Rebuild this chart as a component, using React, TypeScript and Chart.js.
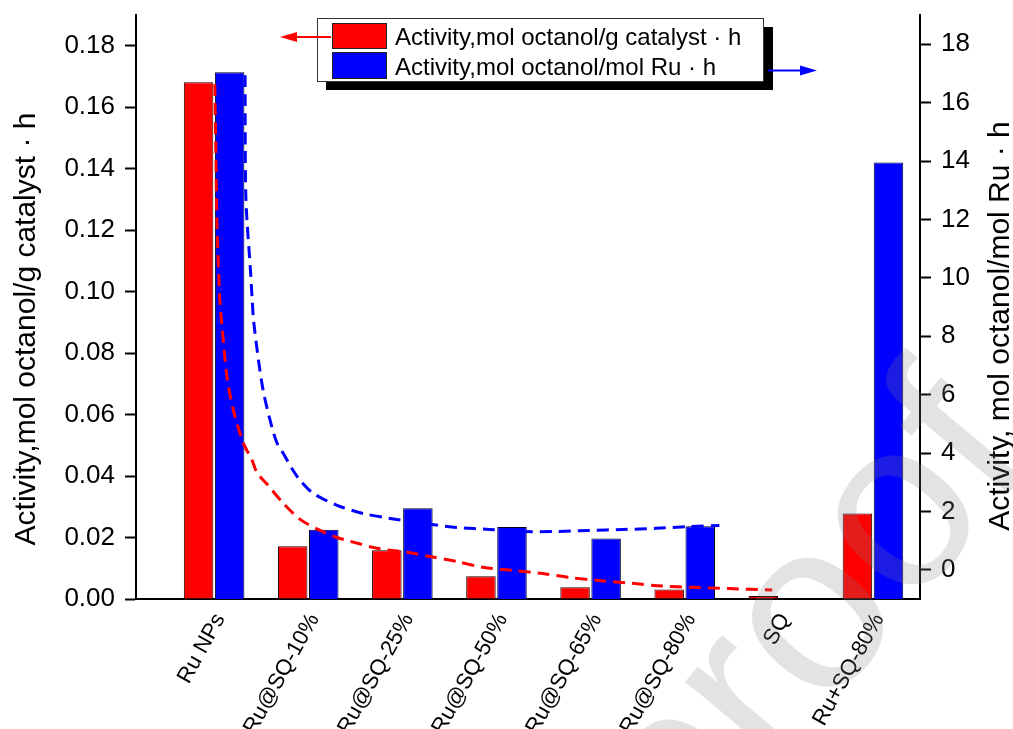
import { useEffect, useRef } from "react";
import { Chart, registerables } from "chart.js";

Chart.register(...registerables);

const FONT = '"Liberation Sans", Arial, sans-serif';

const categories = ["Ru NPs", "Ru@SQ-10%", "Ru@SQ-25%", "Ru@SQ-50%", "Ru@SQ-65%", "Ru@SQ-80%", "SQ", "Ru+SQ-80%"];
const categoryPositions = [1, 2, 3, 4, 5, 6, 7, 8];
const activityPerGram = [0.1681, 0.0172, 0.0159, 0.0074, 0.0038, 0.0031, 0.001, 0.0278];
const activityPerMolRu: (number | null)[] = [17.04, 1.37, 2.11, 1.47, 1.07, 1.49, null, 13.95];

const redFitX = [1.007, 1.018, 1.031, 1.048, 1.06, 1.084, 1.137, 1.204, 1.31, 1.402, 1.458, 1.561, 1.734, 1.914, 2.126, 2.306, 2.444, 2.731, 3.049, 3.293, 3.579, 3.855, 4.173, 4.491, 4.777, 5.095, 5.445, 5.763, 6.081, 6.474, 6.93];
const redFitY = [0.1675, 0.1463, 0.1212, 0.1062, 0.0975, 0.0886, 0.0723, 0.0615, 0.0508, 0.0452, 0.041, 0.0374, 0.0312, 0.0259, 0.0223, 0.02, 0.0188, 0.0165, 0.0152, 0.0138, 0.0122, 0.0103, 0.0093, 0.0083, 0.007, 0.006, 0.0051, 0.0042, 0.0038, 0.0034, 0.0029];

const blueFitX = [1.329, 1.331, 1.336, 1.349, 1.384, 1.405, 1.419, 1.472, 1.525, 1.614, 1.67, 1.734, 1.84, 1.914, 2.052, 2.307, 2.582, 2.869, 3.218, 3.579, 3.929, 4.279, 4.64, 4.99, 5.34, 5.7, 6.05, 6.368];
const blueFitY = [16.94, 14.37, 12.9, 11.97, 10.36, 9.23, 8.55, 7.17, 6.08, 4.88, 4.33, 3.99, 3.4, 3.06, 2.62, 2.21, 1.93, 1.76, 1.59, 1.45, 1.38, 1.31, 1.31, 1.35, 1.38, 1.42, 1.48, 1.52];

const leftTicks = [0, 0.02, 0.04, 0.06, 0.08, 0.1, 0.12, 0.14, 0.16, 0.18];
const rightTicks = [0, 2, 4, 6, 8, 10, 12, 14, 16, 18];

const legendLabels = ["Activity,mol octanol/g catalyst \u00b7 h", "Activity,mol octanol/mol Ru \u00b7 h"];
const leftTitle = "Activity,mol octanol/g catalyst \u00b7 h";
const rightTitle = "Activity, mol octanol/mol Ru \u00b7 h";
const watermark = "proof";

const RED = "#ff0000";
const BLUE = "#0000ff";

const decorPlugin = {
  id: "decor",
  afterDraw(chart: any) {
    const ctx: CanvasRenderingContext2D = chart.ctx;
    ctx.save();

    // axis titles
    ctx.fillStyle = "#000";
    ctx.font = `30px ${FONT}`;
    ctx.textAlign = "center";
    ctx.textBaseline = "alphabetic";
    ctx.save();
    ctx.translate(35, 329);
    ctx.rotate(-Math.PI / 2);
    ctx.fillText(leftTitle, 0, 0);
    ctx.restore();
    ctx.save();
    ctx.translate(1009, 326);
    ctx.rotate(-Math.PI / 2);
    ctx.fillText(rightTitle, 0, 0);
    ctx.restore();

    // legend shadow + box
    ctx.fillStyle = "#000";
    ctx.fillRect(326, 27, 447, 63);
    ctx.fillStyle = "#fff";
    ctx.fillRect(317.5, 18.5, 446, 63);
    ctx.strokeStyle = "#333";
    ctx.lineWidth = 1;
    ctx.strokeRect(317.5, 18.5, 446, 63);

    // swatches
    ctx.fillStyle = RED;
    ctx.fillRect(332.5, 23.5, 54, 25);
    ctx.strokeStyle = "#222";
    ctx.strokeRect(332.5, 23.5, 54, 25);
    ctx.fillStyle = BLUE;
    ctx.fillRect(332.5, 52.5, 54, 26);
    ctx.strokeRect(332.5, 52.5, 54, 26);

    ctx.fillStyle = "#000";
    ctx.font = `24px ${FONT}`;
    ctx.textAlign = "left";
    ctx.textBaseline = "alphabetic";
    ctx.fillText(legendLabels[0], 395, 44.5);
    ctx.fillText(legendLabels[1], 395, 74.5);

    // arrows
    ctx.strokeStyle = RED;
    ctx.fillStyle = RED;
    ctx.lineWidth = 2;
    ctx.beginPath();
    ctx.moveTo(331, 37);
    ctx.lineTo(294, 37);
    ctx.stroke();
    ctx.beginPath();
    ctx.moveTo(280, 37);
    ctx.lineTo(297, 32);
    ctx.lineTo(297, 42);
    ctx.closePath();
    ctx.fill();

    ctx.strokeStyle = BLUE;
    ctx.fillStyle = BLUE;
    ctx.beginPath();
    ctx.moveTo(768, 70.5);
    ctx.lineTo(803, 70.5);
    ctx.stroke();
    ctx.beginPath();
    ctx.moveTo(817, 70.5);
    ctx.lineTo(800, 65.5);
    ctx.lineTo(800, 75.5);
    ctx.closePath();
    ctx.fill();

    // watermark
    ctx.save();
    ctx.fillStyle = "rgba(128,128,128,0.22)";
    ctx.font = `240px ${FONT}`;
    ctx.textAlign = "left";
    ctx.textBaseline = "alphabetic";
    ctx.translate(686, 878);
    ctx.rotate((-50 * Math.PI) / 180);
    ctx.fillText(watermark, 0, 0);
    ctx.restore();

    ctx.restore();
  },
};

export default function App() {
  const canvasRef = useRef<HTMLCanvasElement | null>(null);

  useEffect(() => {
    const canvas = canvasRef.current;
    if (!canvas) return;

    const chart = new Chart(canvas, {
      type: "bar",
      data: {
        datasets: [
          {
            type: "line",
            label: "fit g",
            data: redFitX.map((x, i) => ({ x, y: redFitY[i] })),
            xAxisID: "x",
            yAxisID: "y",
            borderColor: RED,
            borderWidth: 3,
            borderDash: [12, 7],
            pointRadius: 0,
            tension: 0.3,
            fill: false,
            order: 0,
          } as any,
          {
            type: "line",
            label: "fit Ru",
            data: blueFitX.map((x, i) => ({ x, y: blueFitY[i] })),
            xAxisID: "x",
            yAxisID: "y2",
            borderColor: BLUE,
            borderWidth: 3,
            borderDash: [12, 7],
            pointRadius: 0,
            tension: 0.3,
            fill: false,
            order: 0,
          } as any,
          {
            type: "bar",
            label: legendLabels[0],
            data: categoryPositions.map((x, i) => ({ x, y: activityPerGram[i] })),
            xAxisID: "x",
            yAxisID: "y",
            backgroundColor: RED,
            borderColor: "#1a0000",
            borderWidth: 1,
            categoryPercentage: 0.66,
            barPercentage: 0.95,
            order: 1,
          } as any,
          {
            type: "bar",
            label: legendLabels[1],
            data: categoryPositions.map((x, i) => ({ x, y: activityPerMolRu[i] })),
            xAxisID: "x",
            yAxisID: "y2",
            base: -1,
            backgroundColor: BLUE,
            borderColor: "#000022",
            borderWidth: 1,
            categoryPercentage: 0.66,
            barPercentage: 0.95,
            order: 1,
          } as any,
        ],
      },
      options: {
        animation: false,
        responsive: false,
        maintainAspectRatio: false,
        layout: { padding: { top: 15, left: 0, right: 0, bottom: 0 } },
        plugins: {
          legend: { display: false },
          tooltip: { enabled: false },
          title: { display: false },
        },
        font: { family: FONT },
        scales: {
          x: {
            type: "linear",
            position: "bottom",
            offset: false,
            min: 0.17,
            max: 8.5,
            afterBuildTicks: (scale: any) => {
              scale.ticks = categoryPositions.map((v) => ({ value: v }));
            },
            afterFit: (scale: any) => {
              scale.height = 130;
              scale.paddingLeft = 0;
              scale.paddingRight = 0;
            },
            ticks: {
              autoSkip: false,
              minRotation: 61,
              maxRotation: 61,
              padding: 10,
              labelOffset: 6,
              color: "#000",
              font: { family: FONT, size: 22 },
              callback: (value: any) => {
                const idx = categoryPositions.indexOf(Number(value));
                return idx >= 0 ? categories[idx] : "";
              },
            },
            grid: { display: true, offset: false, drawOnChartArea: false, drawTicks: false },
            border: { display: true, color: "#000", width: 2 },
          },
          y: {
            type: "linear",
            position: "left",
            min: 0,
            max: 0.19,
            afterBuildTicks: (scale: any) => {
              scale.ticks = leftTicks.map((v) => ({ value: v }));
            },
            afterFit: (scale: any) => {
              scale.width = 136;
              scale.paddingTop = 0;
              scale.paddingBottom = 0;
            },
            ticks: {
              padding: 10,
              color: "#000",
              font: { family: FONT, size: 26 },
              callback: (value: any) => Number(value).toFixed(2),
            },
            grid: {
              drawOnChartArea: false,
              drawTicks: true,
              tickLength: 11,
              tickColor: "#000",
              tickWidth: 2,
            },
            border: { display: true, color: "#000", width: 2 },
          },
          y2: {
            type: "linear",
            position: "right",
            min: -1,
            max: 19,
            afterBuildTicks: (scale: any) => {
              scale.ticks = rightTicks.map((v) => ({ value: v }));
            },
            afterFit: (scale: any) => {
              scale.width = 93;
              scale.paddingTop = 0;
              scale.paddingBottom = 0;
            },
            ticks: {
              padding: 10,
              color: "#000",
              font: { family: FONT, size: 26 },
              callback: (value: any) => String(value),
            },
            grid: {
              drawOnChartArea: false,
              drawTicks: true,
              tickLength: 11,
              tickColor: "#000",
              tickWidth: 2,
            },
            border: { display: true, color: "#000", width: 2 },
          },
        },
      } as any,
      plugins: [decorPlugin],
    });

    return () => {
      chart.destroy();
    };
  }, []);

  return (
    <div style={{ position: "absolute", left: 0, top: 0, width: 1013, height: 729, background: "#fff" }}>
      <canvas ref={canvasRef} width={1013} height={729} style={{ display: "block" }} />
    </div>
  );
}
